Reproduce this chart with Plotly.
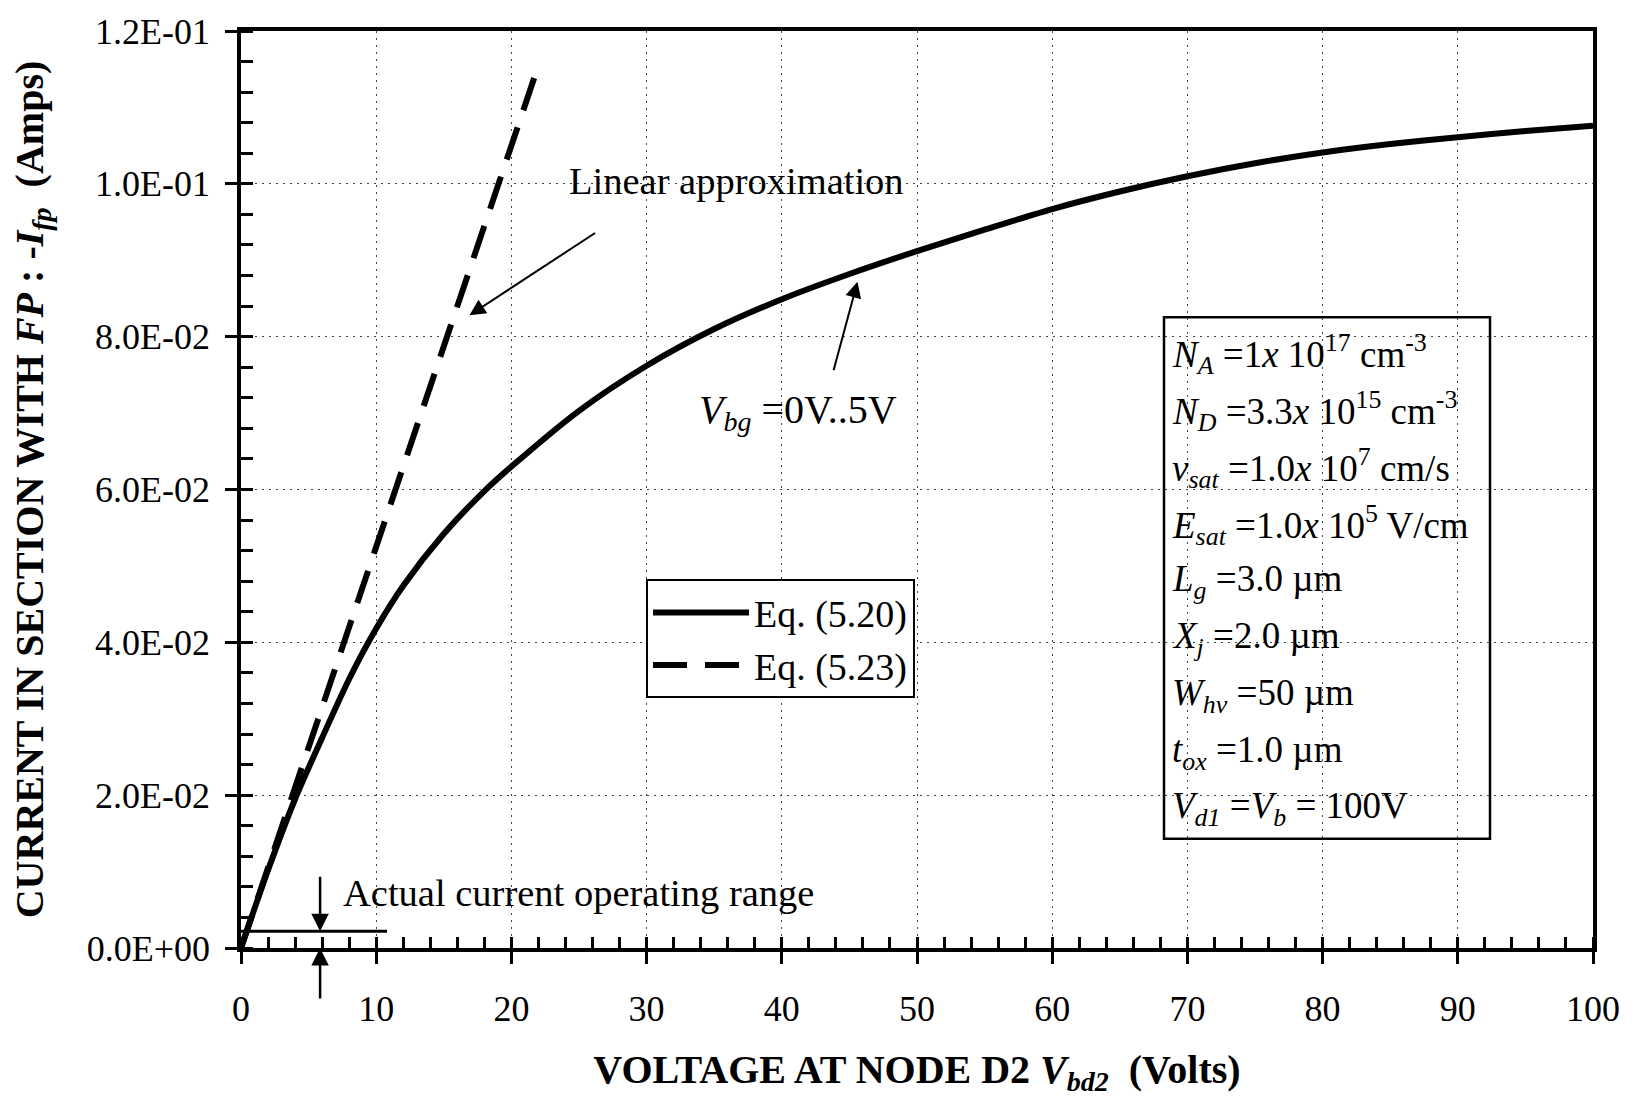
import plotly.graph_objects as go

# ---------------- data ----------------
v_bd2 = [0, 2, 4, 6, 8, 10, 12, 15, 18, 20, 25, 30, 35, 40, 45, 50, 55, 60,
         65, 70, 75, 80, 85, 90, 95, 100]
i_fp_eq520 = [0.0, 0.0102, 0.0195, 0.0275, 0.0352, 0.0418, 0.0474, 0.0542,
              0.0598, 0.0630, 0.0703, 0.0762, 0.0810, 0.0849, 0.0882, 0.0912,
              0.0940, 0.0967, 0.0990, 0.1010, 0.1027, 0.1041, 0.1052, 0.1061,
              0.1069, 0.1076]
v_lin = [0, 22]
i_fp_eq523 = [0.0, 0.1155]

x_ticks = [0, 10, 20, 30, 40, 50, 60, 70, 80, 90, 100]
y_ticks = [0.0, 0.02, 0.04, 0.06, 0.08, 0.10, 0.12]
y_tick_labels = ["0.0E+00", "2.0E-02", "4.0E-02", "6.0E-02", "8.0E-02",
                 "1.0E-01", "1.2E-01"]

op_range_x = [-0.4, 10.8]      # "actual current operating range" bar
op_range_i = 0.0022
op_marker_v = 5.85

param_lines = [
    "<i>N</i><sub><i>A</i></sub> =1<i>x</i> 10<sup>17</sup> cm<sup>-3</sup>",
    "<i>N</i><sub><i>D</i></sub> =3.3<i>x</i> 10<sup>15</sup> cm<sup>-3</sup>",
    "<i>v</i><sub><i>sat</i></sub> =1.0<i>x</i> 10<sup>7</sup> cm/s",
    "<i>E</i><sub><i>sat</i></sub> =1.0<i>x</i> 10<sup>5</sup> V/cm",
    "<i>L</i><sub><i>g</i></sub> =3.0 µm",
    "<i>X</i><sub><i>j</i></sub> =2.0 µm",
    "<i>W</i><sub><i>hv</i></sub> =50 µm",
    "<i>t</i><sub><i>ox</i></sub> =1.0 µm",
    "<i>V</i><sub><i>d1</i></sub> =<i>V</i><sub><i>b</i></sub> = 100V",
]

# ---------------- layout geometry (pixels) ----------------
W, H = 1636, 1097
L, R, T, B = 241, 43, 25, 149
PW, PH = W - L - R, H - T - B
FONT = "Liberation Serif, Times New Roman, serif"


def px(xp):
    return (xp - L) / PW


def py(yp):
    return (H - B - yp) / PH


fig = go.Figure()
fig.add_trace(go.Scatter(x=v_bd2, y=i_fp_eq520, mode="lines", name="Eq. (5.20)",
                         line=dict(color="black", width=6, shape="spline",
                                   smoothing=0.8),
                         legendgroup="a"))
fig.add_trace(go.Scatter(x=v_lin, y=i_fp_eq523, mode="lines", name="Eq. (5.23)",
                         line=dict(color="black", width=6, dash="34px,18px"),
                         legendgroup="b"))

ann = []
# parameter box text
for k, t in enumerate(param_lines):
    ann.append(dict(xref="paper", yref="paper", x=px(1170), y=py(350 + 57.25 * k),
                    xanchor="left", yanchor="middle", showarrow=False, text=t,
                    font=dict(family=FONT, size=37, color="black")))

ann.append(dict(xref="paper", yref="paper", x=px(567), y=py(176), xanchor="left",
                yanchor="middle", showarrow=False, text="Linear approximation",
                font=dict(family=FONT, size=38.5, color="black")))
ann.append(dict(xref="paper", yref="paper", x=px(697), y=py(408), xanchor="left",
                yanchor="middle", showarrow=False,
                text="<i>V</i><sub><i>bg</i></sub> =0V..5V",
                font=dict(family=FONT, size=40, color="black")))
ann.append(dict(xref="paper", yref="paper", x=px(341), y=py(893), xanchor="left",
                yanchor="middle", showarrow=False,
                text="Actual current operating range",
                font=dict(family=FONT, size=38.5, color="black")))

# arrows
ann.append(dict(x=16.9, y=0.0828, ax=26.3, ay=0.0937, xref="x", yref="y",
                axref="x", ayref="y", text="", showarrow=True, arrowhead=2,
                arrowsize=1.6, arrowwidth=2, arrowcolor="black"))
ann.append(dict(x=45.6, y=0.0872, ax=43.8, ay=0.0754, xref="x", yref="y",
                axref="x", ayref="y", text="", showarrow=True, arrowhead=2,
                arrowsize=1.6, arrowwidth=2, arrowcolor="black"))
ann.append(dict(x=op_marker_v, y=op_range_i, ax=0, ay=-56, xref="x", yref="y",
                text="", showarrow=True, arrowhead=2, arrowsize=1.4,
                arrowwidth=2.5, arrowcolor="black"))
ann.append(dict(x=op_marker_v, y=0, ax=0, ay=52, xref="x", yref="y",
                text="", showarrow=True, arrowhead=2, arrowsize=1.4,
                arrowwidth=2.5, arrowcolor="black"))

shapes = [
    dict(type="line", xref="x", yref="y", x0=op_range_x[0], x1=op_range_x[1],
         y0=op_range_i, y1=op_range_i, line=dict(color="black", width=3)),
    dict(type="rect", xref="paper", yref="paper", x0=px(1164), x1=px(1490),
         y0=py(838), y1=py(313), line=dict(color="black", width=2.5),
         fillcolor="white", layer="below"),
]

axis_common = dict(showline=True, linecolor="black", linewidth=3.5, mirror=True,
                   ticks="outside", ticklen=12, tickwidth=3, tickcolor="black",
                   showgrid=True, gridcolor="#444", gridwidth=1, griddash="2px,5px",
                   zeroline=False,
                   tickfont=dict(family=FONT, size=36, color="black"))

fig.update_layout(
    width=W, height=H,
    margin=dict(l=L, r=R, t=T, b=B, pad=0),
    paper_bgcolor="white", plot_bgcolor="white",
    font=dict(family=FONT, color="black"),
    xaxis=dict(range=[0, 100], tickvals=x_ticks, ticklabelstandoff=14,
               minor=dict(dtick=2, tick0=0, ticks="inside", ticklen=11,
                          tickwidth=2.5, tickcolor="black", showgrid=False),
               title=dict(text="<b>VOLTAGE AT NODE D2 <i>V</i><sub><i>bd2</i></sub>  (Volts)</b>",
                          font=dict(family=FONT, size=40, color="black"),
                          standoff=28),
               **axis_common),
    yaxis=dict(range=[0, 0.12], tickvals=y_ticks, ticktext=y_tick_labels,
               ticklabelstandoff=8,
               minor=dict(dtick=0.004, tick0=0, ticks="inside", ticklen=12,
                          tickwidth=2.5, tickcolor="black", showgrid=False),
               title=dict(text="<b>CURRENT IN SECTION WITH <i>FP</i> : -<i>I</i><sub><i>fp</i></sub>  (Amps)</b>",
                          font=dict(family=FONT, size=40, color="black"),
                          standoff=32),
               **axis_common),
    showlegend=True,
    legend=dict(x=px(646), y=py(577), xanchor="left", yanchor="top",
                bgcolor="white", bordercolor="black", borderwidth=2,
                font=dict(family=FONT, size=38, color="black"),
                itemwidth=96, tracegroupgap=0, traceorder="grouped"),
    annotations=ann,
    shapes=shapes,
)

fig.write_html("out.html", include_plotlyjs=True, full_html=True,
               config={"displayModeBar": False},
               post_script="document.body.style.margin='0';document.body.style.overflow='hidden';")
